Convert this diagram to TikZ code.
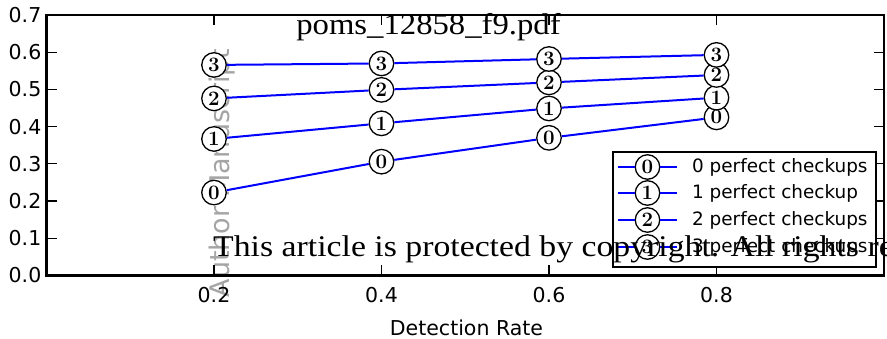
\documentclass[tikz,border=0pt]{standalone}
\usepackage{fontspec}
\newfontfamily\dvs{DejaVu Sans}
\newfontfamily\lserif{Liberation Serif}
\definecolor{plotblue}{RGB}{0,0,255}
\definecolor{wmgray}{RGB}{165,165,165}
\begin{document}
\begin{tikzpicture}[x=1pt,y=1pt,
  spine/.style={line width=2.4pt},
  tickmark/.style={line width=1.2pt},
  ticklab/.style={font=\dvs\fontsize{20.5}{24}\selectfont, inner sep=0pt},
  dataline/.style={draw=plotblue, line width=2pt},
  mk/.style={circle, draw=black, fill=white, line width=1.3pt, minimum size=24.5pt, inner sep=0pt, font=\fontsize{20.5}{20}\selectfont\bfseries},
  legtext/.style={font=\dvs\fontsize{18.4}{22}\selectfont, anchor=west, inner sep=0pt},
  ]
\useasboundingbox (0,0) rectangle (887,339);
\clip (0,0) rectangle (887,339);
\fill[white] (0,0) rectangle (887,339);
% gray watermark (behind the plot)
\node[font=\dvs\fontsize{27}{30}\selectfont, text=wmgray, rotate=90, anchor=base, inner sep=0pt] (wm1) at (229,166) {Author Manuscript};
\begin{scope}[shift={(46.5,63.5)}, x=837.5pt, y=372pt]
  % frame and ticks
  \draw[spine] (0,0) rectangle (1,0.7);
  \foreach \t in {0.2,0.4,0.6,0.8} {
    \draw[tickmark] (\t,0) -- ++(0,10pt);
    \draw[tickmark] (\t,0.7) -- ++(0,-10pt);
    \node[ticklab] (xl\t) at ([yshift=-19.5pt]\t,0) {\t};
  }
  \foreach \t in {0.1,0.2,0.3,0.4,0.5,0.6} {
    \draw[tickmark] (0,\t) -- ++(10pt,0);
    \draw[tickmark] (1,\t) -- ++(-10pt,0);
  }
  \foreach \t/\l in {0/0.0,0.1/0.1,0.2/0.2,0.3/0.3,0.4/0.4,0.5/0.5,0.6/0.6,0.7/0.7} {
    \node[ticklab, anchor=east] (yl\l) at ([xshift=-5pt]0,\t) {\l};
  }
  % markers
  \foreach \v [count=\j from 0] in {0.223,0.306,0.370,0.425} {
    \node[mk] (m0\j) at ({0.2+0.2*\j},\v) {0};
  }
  \foreach \v [count=\j from 0] in {0.367,0.409,0.449,0.478} {
    \node[mk] (m1\j) at ({0.2+0.2*\j},\v) {1};
  }
  \foreach \v [count=\j from 0] in {0.476,0.499,0.519,0.539} {
    \node[mk] (m2\j) at ({0.2+0.2*\j},\v) {2};
  }
  \foreach \v [count=\j from 0] in {0.566,0.570,0.582,0.593} {
    \node[mk] (m3\j) at ({0.2+0.2*\j},\v) {3};
  }
  \foreach \k in {0,1,2,3} {
    \draw[dataline] (m\k0) -- (m\k1) -- (m\k2) -- (m\k3);
  }
\end{scope}
% axis label
\node[font=\dvs\fontsize{20.5}{24}\selectfont, anchor=base, inner sep=0pt] (xlabel) at (466.5,3.5) {Detection Rate};
% legend
\draw[line width=2pt, fill=white] (613,187) rectangle (876,72);
\foreach \k/\yy/\txt in {0/172/0 perfect checkups,1/146/1 perfect checkup,2/119/2 perfect checkups,3/92/3 perfect checkups} {
  \coordinate (la\k) at (618,\yy);
  \coordinate (lb\k) at (677,\yy);
  \node[mk] (lm\k) at (647.5,\yy) {\k};
  \draw[dataline] (la\k) -- (lm\k) -- (lb\k);
  \node[legtext] (lt\k) at (692,\yy) {\txt};
}
% black watermarks
\node[font=\lserif\fontsize{30}{34}\selectfont, anchor=base, inner sep=0pt, xscale=1.09] (wm2) at (428.5,304) {poms\_12858\_f9.pdf};
\node[font=\lserif\fontsize{30}{34}\selectfont, anchor=base west, inner sep=0pt, xscale=1.125] (wm3) at (213,82) {This article is protected by copyright. All rights reserved.};
\end{tikzpicture}
\end{document}
